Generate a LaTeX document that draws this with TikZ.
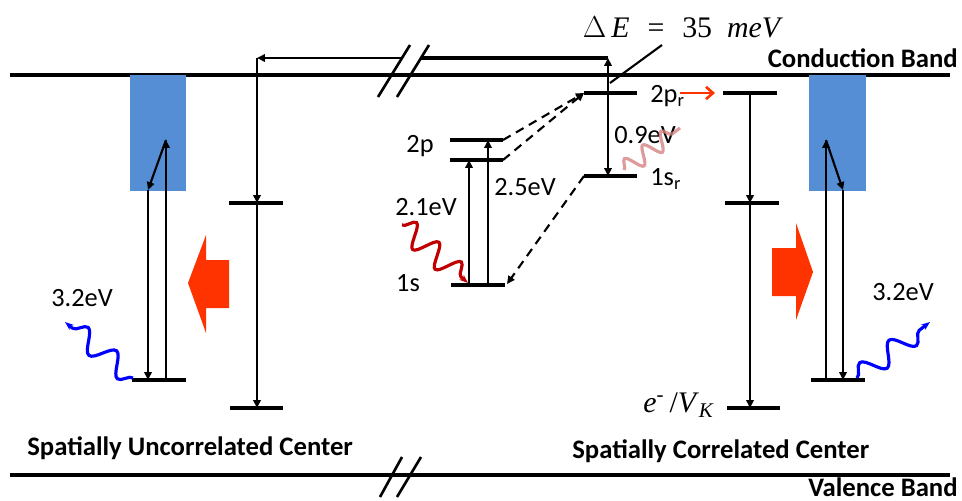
\documentclass[tikz,border=0pt]{standalone}
\usepackage{fontspec}
\setmainfont{Carlito}
\newfontfamily\timesfont{Liberation Serif}
\usetikzlibrary{arrows.meta,decorations.pathmorphing,positioning}
\definecolor{boxblue}{RGB}{85,142,213}
\definecolor{hotred}{RGB}{255,51,0}
\definecolor{darkred}{RGB}{192,0,0}
\definecolor{pinkred}{RGB}{214,130,130}
\tikzstyle{every node}=[font=\fontsize{15}{17}\selectfont, inner sep=0pt]
\tikzstyle{level}=[line width=2pt]
\tikzstyle{band}=[line width=1.8pt]
\tikzstyle{trans}=[line width=1.2pt, -{Triangle[length=4.5pt,width=4.2pt]}]
\tikzstyle{dashtrans}=[trans, dash pattern=on 5pt off 3.5pt]
\tikzstyle{photon}=[line width=1.8pt, decorate, decoration={snake, amplitude=6pt, segment length=21pt, post length=3pt}]
\tikzstyle{title}=[font=\fontsize{15.2}{17}\selectfont\bfseries]

\begin{document}
\begin{tikzpicture}[x=0.02cm, y=-0.02cm]
  \useasboundingbox (0,0) rectangle (962,500);

  % Bands
  \draw[band] (10,75) -- (950,75);
  \draw[band] (10,475) -- (950,475);
  \node[title, anchor=base east] (cb) at (958,68) {Conduction Band};
  \node[title, anchor=base east] (vb) at (958,496) {Valence Band};

  % Break marks
  \draw[line width=1.5pt] (378,97) -- (410,45);
  \draw[line width=1.5pt] (397,97) -- (429,45);
  \draw[line width=1.5pt] (380,497) -- (402,457);
  \draw[line width=1.5pt] (397,497) -- (421,457);

  % Uncorrelated center
  \fill[boxblue] (130,75) rectangle (186,191);
  \draw[level] (132,380) -- (186,380);
  \coordinate (uA) at (166,380);
  \coordinate (uB) at (166,140);
  \coordinate (uC) at (148,190);
  \coordinate (uD) at (148,380);
  \draw[trans] (uA) -- (uB);
  \draw[trans] (uB) -- (uC);
  \draw[trans] (uC) -- (uD);
  \coordinate (uw0) at (133,378);
  \coordinate (uw1) at (65,322);
  \draw[blue, photon, -{Stealth[length=5pt]}] (uw0) -- (uw1);
  \node (u32) at (82,298) {3.2eV};
  \fill[hotred] (188,283) -- (206,235) -- (206,260) -- (229,260)
    -- (229,308) -- (206,308) -- (206,333) -- cycle;

  % Trap levels, left
  \draw[level] (229,203) -- (283,203);
  \draw[level] (230,408) -- (283,408);
  \coordinate (tTop) at (257,58);
  \coordinate (tMid) at (257,203);
  \coordinate (tBot) at (257,408);
  \coordinate (tBrk) at (401,58);
  \coordinate (rTop) at (608,58);
  \draw[line width=1.8pt] (421,58) -- (rTop);
  \draw[trans] (tBrk) -- (tTop);
  \draw[trans] (tTop) -- (tMid);
  \draw[trans] (tMid) -- (tBot);

  % 1s - 2p levels
  \draw[level] (450,140) -- (503,140);
  \draw[level] (450,160) -- (503,160);
  \draw[level] (451,285) -- (505,285);
  \node (p2) at (420,146) {2p};
  \node (s1) at (408,283) {1s};
  \node (e21) at (426,207) {2.1eV};
  \node (e25) at (525,187) {2.5eV};
  \draw[trans] (469,285) -- (469,160);
  \draw[trans] (488,285) -- (488,140);
  \coordinate (dw0) at (402,225);
  \coordinate (dw1) at (468,283);
  \draw[darkred, photon, decoration={amplitude=6.5pt, segment length=17pt}, -{Stealth[length=5pt]}] (dw0) -- (dw1);

  % Relaxed levels
  \draw[level] (584,93) -- (637,93);
  \draw[level] (584,176) -- (637,176);
  \coordinate (pr) at (584,93);
  \coordinate (sr) at (584,176);
  \coordinate (rBot) at (608,176);
  \draw[dashtrans] (503,140) -- (pr);
  \draw[dashtrans] (503,160) -- (pr);
  \draw[dashtrans] (sr) -- (507,284);
  \draw[line width=1.2pt, {Triangle[length=4.5pt,width=4.2pt]}-{Triangle[length=4.5pt,width=4.2pt]}] (rTop) -- (rBot);
  \node[anchor=west] (p2r) at (650,96) {2p\textsubscript{r}};
  \node[anchor=west] (s1r) at (650,179) {1s\textsubscript{r}};
  \node (e09) at (645,135) {0.9eV};
  \draw[pinkred, opacity=0.8, photon, decoration={amplitude=5pt, segment length=13pt, post length=0pt}] (624,170) -- (680,128);
  \draw[hotred, line width=1.5pt, -{Straight Barb[length=4pt,width=7pt]}] (680,93) -- (715,93);

  % Delta E
  \node (de) at (683,27) {\timesfont\fontsize{17}{18}\selectfont $\Delta$\,\textit{E}\hspace{0.6em}=\hspace{0.6em}35\hspace{0.5em}\textit{meV}};
  \draw[line width=1.2pt] (662,45) -- (610,83);

  % Trap levels, right
  \draw[level] (723,93) -- (777,93);
  \draw[level] (725,203) -- (779,203);
  \draw[level] (727,408) -- (780,408);
  \draw[trans] (750,93) -- (750,203);
  \draw[trans] (750,203) -- (750,408);
  \node[anchor=east] (ev) at (715,405) {\timesfont\fontsize{17}{18}\selectfont\textit{e}\textsuperscript{-}\,/\textit{V}\textsubscript{\textit{K}}};

  % Correlated center
  \fill[boxblue] (809,75) rectangle (866,191);
  \draw[level] (811,380) -- (865,380);
  \coordinate (cA) at (826,380);
  \coordinate (cB) at (826,140);
  \coordinate (cC) at (843,190);
  \coordinate (cD) at (843,380);
  \draw[trans] (cA) -- (cB);
  \draw[trans] (cB) -- (cC);
  \draw[trans] (cC) -- (cD);
  \coordinate (cw0) at (857,378);
  \coordinate (cw1) at (930,322);
  \draw[blue, photon, -{Stealth[length=5pt]}] (cw0) -- (cw1);
  \node (c32) at (903,292) {3.2eV};
  \fill[hotred] (813,272) -- (796,223) -- (796,248) -- (772,248)
    -- (772,296) -- (796,296) -- (796,320) -- cycle;

  % Captions
  \node[title, anchor=base west] (unc) at (27,455) {Spatially Uncorrelated Center};
  \node[title, anchor=base west] (cor) at (572,458) {Spatially Correlated Center};
\end{tikzpicture}
\end{document}
